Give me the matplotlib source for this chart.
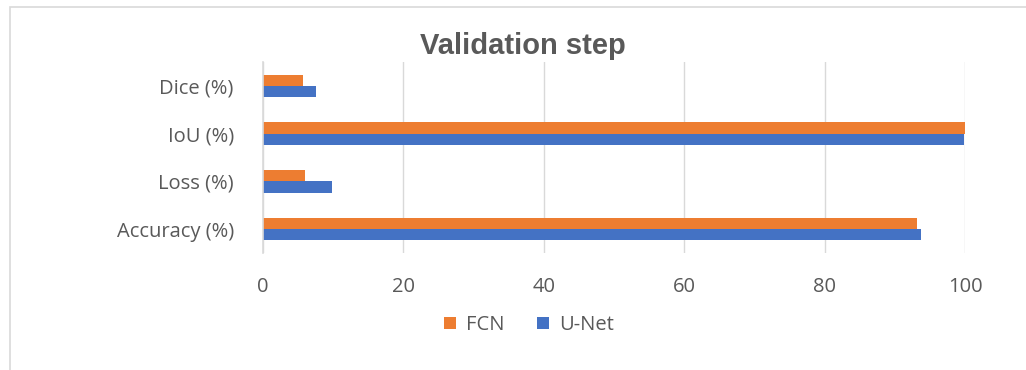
import matplotlib
matplotlib.use("Agg")
import matplotlib.pyplot as plt
from matplotlib.patches import Rectangle
import numpy as np

categories = ["Accuracy (%)", "Loss (%)", "IoU (%)", "Dice (%)"]
unet = [93.8, 9.8, 99.9, 7.5]
fcn = [93.1, 6.0, 100.0, 5.7]
xticks = [0, 20, 40, 60, 80, 100]

txt = "#595959"
plt.rcParams['font.family'] = ['Open Sans', 'DejaVu Sans']

fig = plt.figure(figsize=(10.26, 3.70), dpi=100)
W, H = 1026, 370
# outer chart frame (cropped at right/bottom)
fig.patches.append(Rectangle((10 / W, -0.1), 1.2, 1 - 7 / H + 0.1,
                             transform=fig.transFigure, fill=False,
                             edgecolor="#D9D9D9", linewidth=1.2))

ax = fig.add_axes([263 / W, 1 - 253 / H, (965 - 263) / W, (253 - 62) / H])

y = np.arange(len(categories))
h = 0.235
ax.barh(y - h / 2, unet, height=h, color="#4472C4", label="U-Net")
ax.barh(y + h / 2, fcn, height=h, color="#ED7D31", label="FCN")

ax.set_xlim(0, 100)
ax.set_ylim(-0.5, len(categories) - 0.5)
ax.set_xticks(xticks)
ax.set_yticks(y)
ax.set_yticklabels(categories)
ax.xaxis.grid(True, color="#D9D9D9", linewidth=1)
ax.set_axisbelow(True)
for s in ["top", "right", "bottom"]:
    ax.spines[s].set_visible(False)
ax.spines["left"].set_color("#D9D9D9")
ax.spines["left"].set_linewidth(1.2)
ax.tick_params(axis="both", length=0, labelsize=14.5, colors=txt)
ax.tick_params(axis="x", pad=17)
ax.tick_params(axis="y", pad=21)

fig.text(523 / W, 1 - 46 / H, "Validation step", ha="center", va="center",
         fontsize=21, fontweight="bold", color=txt, family="Liberation Sans")

handles, labels = ax.get_legend_handles_labels()
fig.legend(handles[::-1], labels[::-1], loc="center",
           bbox_to_anchor=(529 / W, 1 - 325 / H), ncol=2, frameon=False,
           fontsize=14.5, labelcolor=txt, handlelength=0.6, handleheight=0.6,
           handletextpad=0.5, columnspacing=1.6)

fig.savefig("out.png", dpi=100, facecolor="white")
